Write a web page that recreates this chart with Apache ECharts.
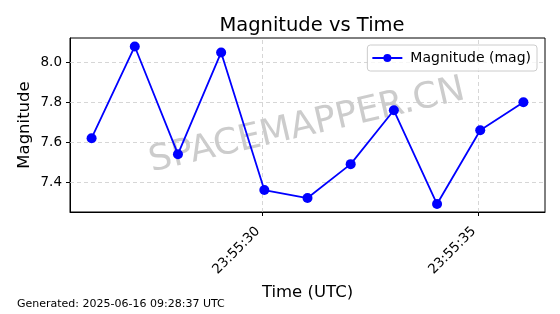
<!DOCTYPE html>
<html><head><meta charset="utf-8">
<script src="https://cdn.jsdelivr.net/npm/echarts@6/dist/echarts.min.js"></script>
<style>html,body{margin:0;padding:0;background:#fff}#c{width:560px;height:314px}</style>
</head><body><div id="c"></div>
<script>
// seconds of day (UTC), 23:55:26.05 ... 23:55:36.05
const times = [86126.05, 86127.05, 86128.05, 86129.05, 86130.05, 86131.05, 86132.05, 86133.05, 86134.05, 86135.05, 86136.05];
const magnitudes = [7.62, 8.08, 7.54, 8.05, 7.36, 7.32, 7.49, 7.76, 7.29, 7.66, 7.80];
const xTicks = [86130, 86135];
const yTicks = [7.4, 7.6, 7.8, 8.0];
const seriesName = 'Magnitude (mag)';

function fmtTime(s) {
  const h = Math.floor(s / 3600), m = Math.floor((s % 3600) / 60), sec = Math.round(s % 60);
  const p = n => String(n).padStart(2, '0');
  return p(h) + ':' + p(m) + ':' + p(sec);
}
const FONT = 'DejaVu Sans';
const chart = echarts.init(document.getElementById('c'), null, {renderer: 'canvas'});
const gridLine = {color: '#cccccc', type: [4, 3], width: 0.8};
chart.setOption({
  animation: false,
  textStyle: {fontFamily: FONT},
  title: {text: 'Magnitude vs Time', left: 307, textAlign: 'center', top: 11,
    textStyle: {fontFamily: FONT, fontSize: 19.5, fontWeight: 'normal', color: '#000'}},
  grid: {left: 70, right: 15, top: 38, bottom: 102, show: true, borderColor: '#000', borderWidth: 1},
  legend: {
    top: 45, right: 23, data: [seriesName], orient: 'horizontal',
    borderColor: '#cccccc', borderWidth: 1, borderRadius: 3, padding: [6, 6, 6, 4],
    backgroundColor: 'rgba(255,255,255,0.8)',
    itemWidth: 30, itemHeight: 10, itemGap: 8,
    textStyle: {fontFamily: FONT, fontSize: 14, color: '#000', padding: [0, 0, 0, 3]}
  },
  xAxis: {
    type: 'value', min: 86125.55, max: 86136.55,
    name: 'Time (UTC)', nameLocation: 'middle', nameGap: 69,
    nameTextStyle: {fontFamily: FONT, fontSize: 16.5, color: '#000'},
    axisLine: {show: true, lineStyle: {color: '#000', width: 1}},
    axisTick: {show: true, customValues: xTicks, length: 4, lineStyle: {color: '#000'}},
    axisLabel: {customValues: xTicks, rotate: 45, fontFamily: FONT, fontSize: 13.5, color: '#000', margin: 13,
      padding: [0, 6, 0, 0], formatter: v => fmtTime(v)},
    splitLine: {show: false}
  },
  yAxis: {
    type: 'value', min: 7.25, max: 8.1225,
    name: 'Magnitude', nameLocation: 'middle', nameGap: 37, nameMoveOverlap: false,
    nameTextStyle: {fontFamily: FONT, fontSize: 16.5, color: '#000'},
    axisLine: {show: true, lineStyle: {color: '#000', width: 1}},
    axisTick: {show: true, customValues: yTicks, length: 4, lineStyle: {color: '#000'}},
    axisLabel: {customValues: yTicks, fontFamily: FONT, fontSize: 13.5, color: '#000', margin: 8,
      formatter: v => v.toFixed(1)},
    splitLine: {show: false}
  },
  graphic: [
    {type: 'text', left: 17, top: 299, z: 1, style: {text: 'Generated: 2025-06-16 09:28:37 UTC',
      font: '11px "DejaVu Sans"', fill: '#000'}},
    {type: 'text', x: 307, y: 126, rotation: 13 * Math.PI / 180, z: 1,
      style: {text: 'SPACEMAPPER.CN', font: '36px "DejaVu Sans"', fill: 'rgba(128,128,128,0.4)',
        align: 'center', verticalAlign: 'middle'}}
  ],
  series: [{
    name: seriesName, type: 'line',
    data: times.map((t, i) => [t, magnitudes[i]]),
    symbol: 'circle', symbolSize: 10, showSymbol: true,
    lineStyle: {color: '#0000ff', width: 1.8},
    itemStyle: {color: '#0000ff'},
    z: 5,
    markLine: {
      silent: true, symbol: 'none', label: {show: false}, z: 1,
      lineStyle: gridLine,
      data: xTicks.map(v => ({xAxis: v})).concat(yTicks.map(v => ({yAxis: v})))
    }
  }]
});
</script></body></html>
